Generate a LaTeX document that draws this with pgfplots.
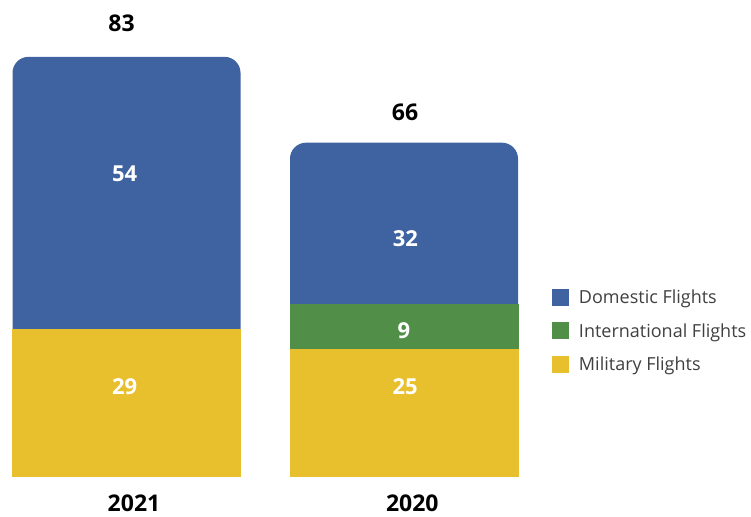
\documentclass[border=0pt]{standalone}
\usepackage{pgfplots}
\pgfplotsset{compat=1.18}
\usepackage{fontspec}
\setmainfont{Open Sans}

\definecolor{domblue}{HTML}{3F62A0}
\definecolor{intgreen}{HTML}{518F48}
\definecolor{milyellow}{HTML}{E8BF2C}
\definecolor{legtext}{HTML}{404040}

\begin{document}
\begin{tikzpicture}
\begin{axis}[
    scale only axis,
    width=751bp, height=517bp,
    xmin=-0.4559, xmax=2.2505,
    ymin=-8.119, ymax=94.257,
    axis lines=none,
    xtick=\empty, ytick=\empty,
    clip=false,
    ybar, bar width=228bp, bar shift=0pt,
    legend style={
        at={(0.735,0.3607)}, anchor=west,
        draw=none, fill=none, inner sep=0pt, outer sep=0pt,
        row sep=16.5bp,
        font=\fontsize{18bp}{20bp}\selectfont\color{legtext},
        nodes={inner sep=0pt, text height=13bp, text depth=0bp},
        cells={anchor=west},
    },
    legend image code/.code={
        \fill[#1, sharp corners, draw=none] (0bp,-8.5bp) rectangle (17bp,8.5bp);
        \path[draw=none, fill=none] (0bp,0bp) -- (27bp,0bp);
    },
]

% domestic drawn as the full bar, so only its top corners stay rounded
\addplot[fill=domblue, draw=none, mark=none, rounded corners=16bp] coordinates {(0,83) (1,66)};
\addlegendentry{Domestic Flights}

% international: top of the green band (25 + 9)
\addplot[fill=intgreen, draw=intgreen, line width=0.6bp, mark=none] coordinates {(1,34)};
\addlegendentry{International Flights}

\addplot[fill=milyellow, draw=milyellow, line width=0.6bp, mark=none] coordinates {(0,29) (1,25)};
\addlegendentry{Military Flights}

% value labels
\begin{scope}[font=\fontsize{22bp}{24bp}\selectfont\bfseries]
\node[white] at (axis cs:-0.007,59.9) {54};
\node[white] at (axis cs:-0.007,17.72) {29};
\node[white] at (axis cs:1.005,47.03) {32};
\node[white] at (axis cs:1.0,28.71) {9};
\node[white] at (axis cs:1.004,17.72) {25};
\end{scope}

\begin{scope}[font=\fontsize{23bp}{25bp}\selectfont\bfseries]
\node at (axis cs:-0.018,89.6) {83};
\node at (axis cs:1.004,72.08) {66};
\node at (axis cs:0.027,-5.35) {2021};
\node at (axis cs:1.03,-5.35) {2020};
\end{scope}

\end{axis}
\path (current axis.south west) rectangle (current axis.north east);
\end{tikzpicture}
\end{document}
